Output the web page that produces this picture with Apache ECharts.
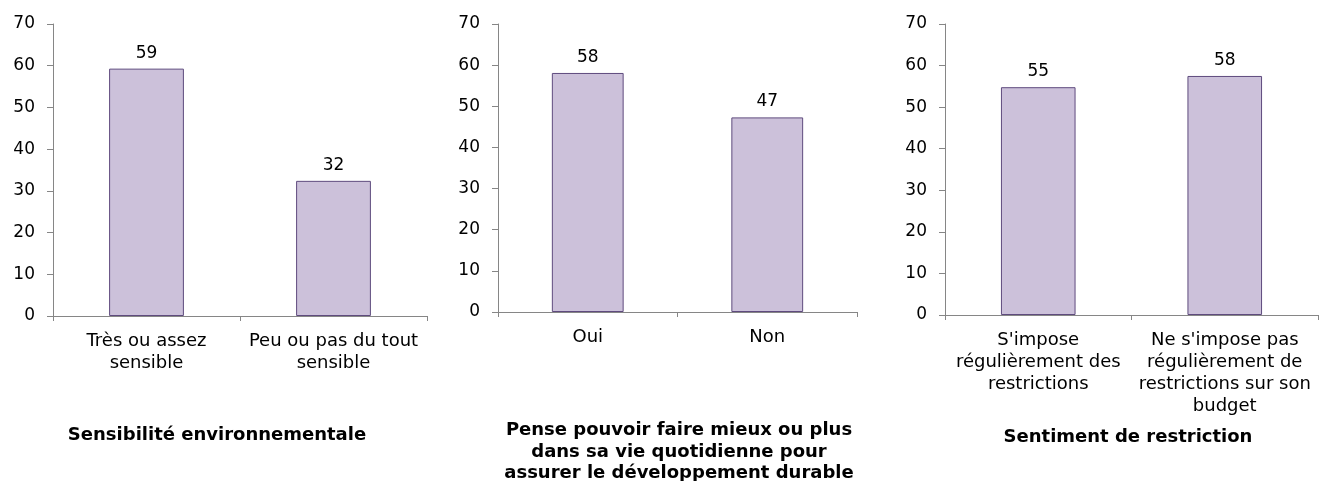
<!DOCTYPE html>
<html>
<head>
<meta charset="utf-8">
<script src="https://cdn.jsdelivr.net/npm/echarts@6/dist/echarts.min.js"></script>
<style>
  body { margin: 0; background: #fff; }
  #main { width: 1328px; height: 481px; }
</style>
</head>
<body>
<div id="main"></div>
<script>
  // données
  var cats1 = ['Très ou assez\nsensible', 'Peu ou pas du tout\nsensible']
  var vals1 = [59.3, 32.4]
  var cats2 = ['Oui', 'Non']
  var vals2 = [58.1, 47.3]
  var cats3 = ["S'impose\nrégulièrement des\nrestrictions", "Ne s'impose pas\nrégulièrement de\nrestrictions sur son\nbudget"]
  var vals3 = [54.8, 57.5]
  var titles = [
    'Sensibilité environnementale',
    'Pense pouvoir faire mieux ou plus\ndans sa vie quotidienne pour\nassurer le développement durable',
    'Sentiment de restriction'
  ]

  var font = 'DejaVu Sans'
  var axisGray = '#868686'

  var chart = echarts.init(document.getElementById('main'))

  var grids = [
    { left: 53, top: 24, width: 374, height: 292 },
    { left: 498, top: 24, width: 359, height: 288 },
    { left: 945, top: 24, width: 373, height: 291 }
  ]

  function xAxis (idx, data) {
    return {
      type: 'category',
      gridIndex: idx,
      data: data,
      axisLine: { lineStyle: { color: axisGray } },
      axisTick: { show: true, length: 5, lineStyle: { color: axisGray } },
      axisLabel: { color: '#000', fontFamily: font, fontSize: 18, lineHeight: 22, margin: 14, interval: 0 }
    }
  }
  function yAxis (idx) {
    return {
      type: 'value',
      gridIndex: idx,
      min: 0, max: 70, interval: 10,
      splitLine: { show: false },
      axisLine: { show: true, lineStyle: { color: axisGray } },
      axisTick: { show: true, length: 6, lineStyle: { color: axisGray } },
      axisLabel: { color: '#000', fontFamily: font, fontSize: 17, margin: 18 }
    }
  }
  function series (idx, data) {
    return {
      type: 'bar',
      xAxisIndex: idx,
      yAxisIndex: idx,
      data: data,
      barWidth: '40%',
      itemStyle: { color: '#CCC1DA', borderColor: '#5F4B7E', borderWidth: 1 },
      label: {
        show: true,
        position: 'top',
        distance: 7,
        color: '#000',
        fontFamily: font,
        fontSize: 17,
        formatter: function (p) { return Math.round(p.value) }
      }
    }
  }

  chart.setOption({
    animation: false,
    title: [
      { text: titles[0], left: 217, top: 425, textAlign: 'center' },
      { text: titles[1], left: 679, top: 420, textAlign: 'center' },
      { text: titles[2], left: 1128, top: 427, textAlign: 'center' }
    ].map(function (t) {
      t.padding = 0
      t.textStyle = { fontFamily: font, fontSize: 18, fontWeight: 'bold', color: '#000', lineHeight: 21.5 }
      return t
    }),
    grid: grids,
    xAxis: [xAxis(0, cats1), xAxis(1, cats2), xAxis(2, cats3)],
    yAxis: [yAxis(0), yAxis(1), yAxis(2)],
    series: [series(0, vals1), series(1, vals2), series(2, vals3)]
  })
</script>
</body>
</html>
